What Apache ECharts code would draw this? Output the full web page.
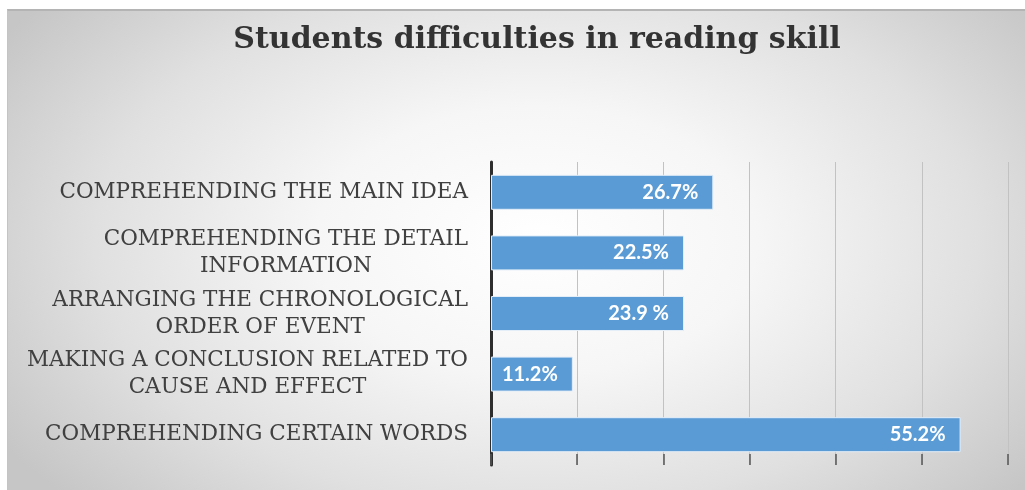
<!DOCTYPE html>
<html>
<head>
<meta charset="utf-8">
<script src="https://cdn.jsdelivr.net/npm/echarts@6/dist/echarts.min.js"></script>
<style>
html,body{margin:0;padding:0;background:#ffffff;}
#frame{position:absolute;left:7px;top:9px;width:1018px;height:481px;
  border-top:2px solid #b4b4b4;border-left:1px solid #c4c4c4;box-sizing:border-box;
  background:radial-gradient(ellipse 62% 80% at 52% 48%, #ffffff 0%, #f6f6f6 35%, #e0e0e0 70%, #c6c6c6 100%);}
#chart{position:absolute;left:0;top:0;width:1025px;height:490px;}
</style>
</head>
<body>
<div id="frame"></div>
<div id="chart"></div>
<script>
const titleText = 'Students difficulties in reading skill';
const categories = [
  'COMPREHENDING THE MAIN IDEA',
  'COMPREHENDING THE DETAIL INFORMATION',
  'ARRANGING THE CHRONOLOGICAL ORDER OF EVENT',
  'MAKING A CONCLUSION RELATED TO CAUSE AND EFFECT',
  'COMPREHENDING CERTAIN WORDS'
];
// bar lengths as drawn in the picture (percent)
const barValues = [25.8, 22.4, 22.4, 9.5, 54.5];
// value labels as printed on the bars
const valueLabels = ['26.7%', '22.5%', '23.9 %', '11.2%', '55.2%'];
const axisMin = 0, axisMax = 60, axisStep = 10;

const labelFontSize = 21.5;
const labelFont = labelFontSize + 'px "DejaVu Serif"';
const labelMaxWidth = 450;
const measureCtx = document.createElement('canvas').getContext('2d');
measureCtx.font = labelFont;
function wrapLabel(text) {
  const words = text.split(' ');
  const lines = [];
  let cur = '';
  words.forEach(w => {
    const test = cur ? cur + ' ' + w : w;
    if (cur && measureCtx.measureText(test).width > labelMaxWidth) {
      lines.push(cur);
      cur = w;
    } else {
      cur = test;
    }
  });
  if (cur) lines.push(cur);
  return lines;
}

const chart = echarts.init(document.getElementById('chart'), null, {renderer: 'canvas'});
chart.setOption({
  backgroundColor: 'transparent',
  animation: false,
  title: {
    text: titleText,
    left: 532,
    top: 20,
    textAlign: 'center',
    textStyle: {fontFamily: 'DejaVu Serif', fontWeight: 'bold', fontSize: 30, color: '#333333'}
  },
  grid: {left: 491, right: 17, top: 162, bottom: 25, containLabel: false},
  xAxis: {
    type: 'value', min: axisMin, max: axisMax, interval: axisStep,
    axisLine: {show: false},
    axisLabel: {show: false},
    axisTick: {show: true, inside: true, length: 11, lineStyle: {color: '#555555', width: 1.5}},
    splitLine: {show: true, lineStyle: {color: '#c2c2c2', width: 1}}
  },
  yAxis: {
    type: 'category', data: categories, inverse: true,
    axisLine: {show: true, lineStyle: {color: '#2e2e2e', width: 3}},
    axisTick: {show: false},
    axisLabel: {
      margin: 23, fontFamily: 'DejaVu Serif', fontSize: labelFontSize, lineHeight: 27,
      color: '#404040',
      formatter: v => wrapLabel(v).map(l => '{c|' + l + '}').join('\n'),
      rich: {
        c: {align: 'center', fontFamily: 'DejaVu Serif', fontSize: labelFontSize, lineHeight: 27, color: '#404040'}
      }
    }
  },
  series: [{
    type: 'bar',
    data: barValues,
    barWidth: 35,
    itemStyle: {color: '#5b9bd5', borderColor: '#e3eef8', borderWidth: 1},
    label: {
      show: true, position: 'insideRight', distance: 15,
      formatter: p => valueLabels[p.dataIndex],
      fontFamily: 'Lato', fontWeight: 'bold', fontSize: 20, color: '#ffffff'
    }
  }]
});
</script>
</body>
</html>
